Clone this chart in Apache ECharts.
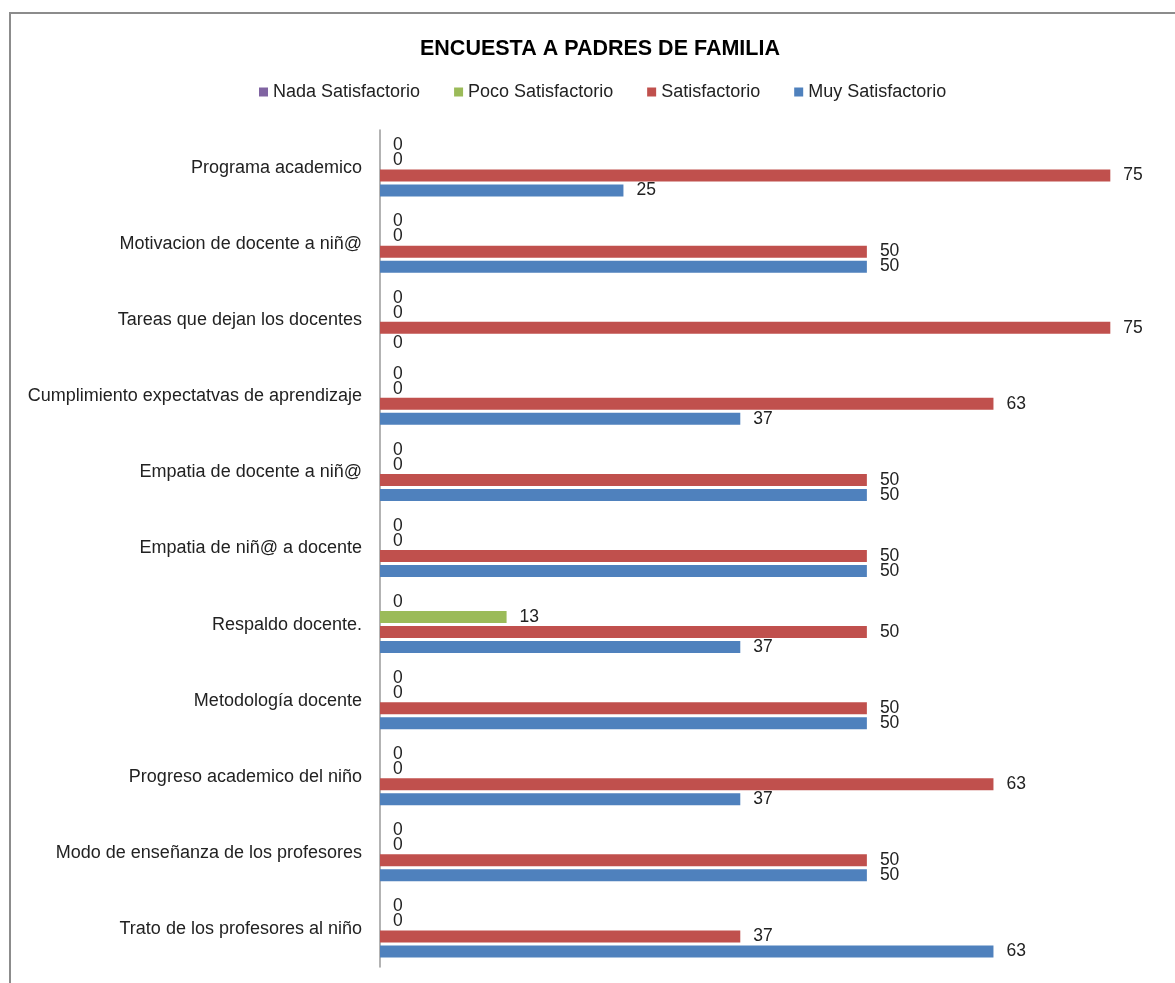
<!DOCTYPE html>
<html>
<head>
<meta charset="utf-8">
<title>Encuesta a padres de familia</title>
<script src="https://cdn.jsdelivr.net/npm/echarts@6/dist/echarts.min.js"></script>
<style>
    html, body { margin: 0; padding: 0; background: #fff; overflow: hidden; }
    #frame { position: absolute; left: 9px; top: 12px; width: 1200px; height: 1000px; border: 2px solid #8c8c8c; }
    #main { position: absolute; left: 0; top: 0; width: 1175px; height: 983px; }
</style>
</head>
<body>
<div id="frame"></div>
<div id="main"></div>
<script>
    // categorias, de arriba hacia abajo
    var categorias = [
        'Programa academico',
        'Motivacion de docente a niñ@',
        'Tareas que dejan los docentes',
        'Cumplimiento expectatvas de aprendizaje',
        'Empatia de docente a niñ@',
        'Empatia de niñ@ a docente',
        'Respaldo docente.',
        'Metodología docente',
        'Progreso academico del niño',
        'Modo de enseñanza de los profesores',
        'Trato de los profesores al niño'
    ];
    var nadaSatisfactorio = [0, 0, 0, 0, 0, 0, 0, 0, 0, 0, 0];
    var pocoSatisfactorio = [0, 0, 0, 0, 0, 0, 13, 0, 0, 0, 0];
    var satisfactorio     = [75, 50, 75, 63, 50, 50, 50, 50, 63, 50, 37];
    var muySatisfactorio  = [25, 50, 0, 37, 50, 50, 37, 50, 37, 50, 63];

    var fuente = 'Liberation Sans, Arial, sans-serif';
    var etiqueta = {
        show: true,
        position: 'right',
        distance: 13,
        color: '#222',
        fontSize: 17.5,
        fontFamily: fuente
    };

    function serie(nombre, datos, color) {
        return {
            name: nombre,
            type: 'bar',
            data: datos,
            barWidth: 12,
            barGap: '25%',
            itemStyle: { color: color },
            label: etiqueta
        };
    }

    var grafico = echarts.init(document.getElementById('main'));
    var opcion = {
        textStyle: { fontFamily: fuente },
        title: {
            text: 'ENCUESTA A PADRES DE FAMILIA',
            left: 415,
            top: 33,
            textStyle: { fontSize: 21.5, fontWeight: 'bold', color: '#000' }
        },
        legend: {
            top: 78,
            left: 254,
            icon: 'rect',
            itemWidth: 9,
            itemHeight: 9,
            itemGap: 34,
            textStyle: { fontSize: 18, color: '#222' },
            data: ['Nada Satisfactorio', 'Poco Satisfactorio', 'Satisfactorio', 'Muy Satisfactorio']
        },
        grid: { left: 380, right: 16, top: 130, bottom: 16, containLabel: false },
        xAxis: {
            type: 'value',
            min: 0,
            max: 80,
            show: false
        },
        yAxis: {
            type: 'category',
            inverse: true,
            data: categorias,
            axisLine: { lineStyle: { color: '#9a9a9a', width: 1.5 } },
            axisTick: { show: false },
            axisLabel: { fontSize: 18, color: '#222', margin: 18 }
        },
        series: [
            serie('Nada Satisfactorio', nadaSatisfactorio, '#8064A2'),
            serie('Poco Satisfactorio', pocoSatisfactorio, '#9BBB59'),
            serie('Satisfactorio', satisfactorio, '#C0504D'),
            serie('Muy Satisfactorio', muySatisfactorio, '#4F81BD')
        ]
    };
    grafico.setOption(opcion);
</script>
</body>
</html>
